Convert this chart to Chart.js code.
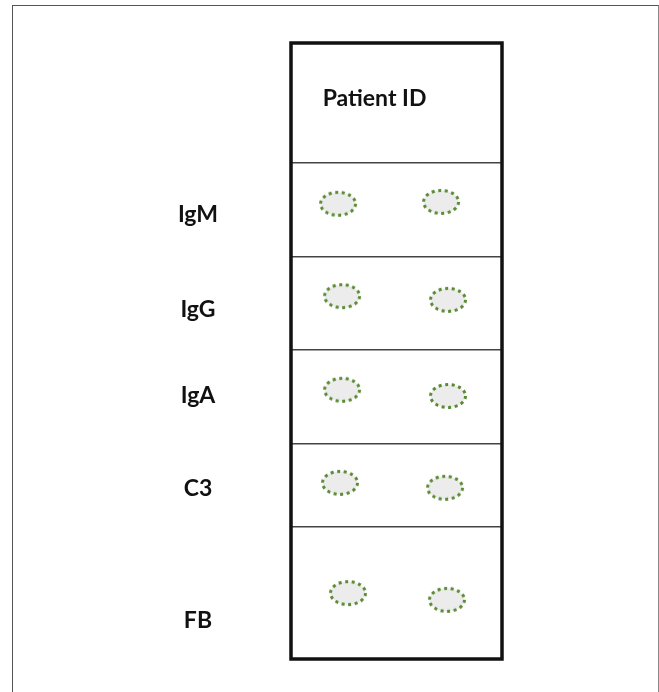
<!DOCTYPE html>
<html>
<head>
<meta charset="utf-8">
<script src="https://cdn.jsdelivr.net/npm/chart.js@4/dist/chart.umd.min.js"></script>
<style>
  html, body { margin: 0; padding: 0; background: #fff; }
  #wrap { position: relative; width: 659px; height: 692px; }
  #frame {
    position: absolute; left: 12px; top: 5px; width: 645px; height: 700px;
    border-left: 1px solid #555; border-top: 1px solid #555; border-right: 1px solid #888;
  }
  #chart { position: absolute; left: 0; top: 0; }
</style>
</head>
<body>
<div id="wrap">
  <div id="frame"></div>
  <canvas id="chart" width="659" height="692"></canvas>
</div>
<script>
// rows of the blot (top to bottom), y in % of box height, x in % of box width
const rowLabels = ['IgM', 'IgG', 'IgA', 'C3', 'FB'];
const labelY = [27.9, 43.2, 57.3, 72.4, 93.7];
const dividerY = [19.5, 34.7, 49.8, 65.1, 78.6];
const spotLeftX = [22.3, 24.2, 24.2, 23.2, 27.0];
const spotLeftY = [26.1, 41.1, 56.3, 71.4, 89.3];
const spotRightX = [71.1, 74.4, 74.4, 73.0, 73.9];
const spotRightY = [25.8, 41.7, 57.3, 72.2, 90.4];
const headerText = 'Patient ID';
const headerX = 15.0;
const headerY = 9.1;

const FONT = 'Lato, "Open Sans", sans-serif';

// dotted ellipse used as point style
const makeSpot = () => {
    const c = document.createElement('canvas');
    c.width = 44; c.height = 30;
    const g = c.getContext('2d');
    const a = 17.5, b = 11.5;
    const h = Math.pow((a - b) / (a + b), 2);
    const per = Math.PI * (a + b) * (1 + 3 * h / (10 + Math.sqrt(4 - 3 * h)));
    const step = per / 14;
    g.beginPath();
    g.ellipse(22, 15, a, b, 0, 0, Math.PI * 2);
    g.fillStyle = '#ececec';
    g.fill();
    g.setLineDash([3, step - 3]);
    g.lineWidth = 3;
    g.strokeStyle = '#5b8a34';
    g.stroke();
    return c;
};
const spotImg = makeSpot();

const toPoints = (xs, ys) => xs.map((x, i) => ({ x, y: ys[i] }));

const boxPlugin = {
    id: 'box',
    afterDraw(chart) {
        const { ctx, chartArea: a, scales } = chart;
        ctx.save();
        ctx.strokeStyle = '#111';
        ctx.lineWidth = 3.5;
        ctx.strokeRect(a.left, a.top, a.right - a.left, a.bottom - a.top);
        ctx.fillStyle = '#111';
        ctx.font = 'bold 23px ' + FONT;
        ctx.textAlign = 'left';
        ctx.textBaseline = 'middle';
        ctx.fillText(headerText, scales.x.getPixelForValue(headerX), scales.y.getPixelForValue(headerY));
        ctx.restore();
    }
};

new Chart(document.getElementById('chart'), {
    type: 'scatter',
    data: {
        datasets: [
            { data: toPoints(spotLeftX, spotLeftY), pointStyle: spotImg },
            { data: toPoints(spotRightX, spotRightY), pointStyle: spotImg }
        ]
    },
    options: {
        responsive: false,
        animation: false,
        layout: { padding: { left: 0, top: 43, right: 157, bottom: 33 } },
        plugins: { legend: { display: false }, tooltip: { enabled: false } },
        scales: {
            x: { type: 'linear', min: 0, max: 100, display: false },
            y: {
                type: 'linear', min: 0, max: 100, reverse: true,
                border: { display: false },
                afterBuildTicks: (scale) => {
                    scale.ticks = [...dividerY, ...labelY].sort((a, b) => a - b).map(v => ({ value: v }));
                },
                afterFit: (scale) => {
                    scale.width = 291;
                    scale.paddingTop = 0;
                    scale.paddingBottom = 0;
                },
                grid: {
                    drawTicks: false,
                    lineWidth: 1.5,
                    color: (c) => (c.tick && dividerY.includes(c.tick.value)) ? '#444' : 'rgba(0,0,0,0)'
                },
                ticks: {
                    crossAlign: 'center',
                    padding: 73,
                    color: '#111',
                    font: { family: FONT, size: 23, weight: 'bold' },
                    callback: (v) => {
                        const i = labelY.indexOf(v);
                        return i >= 0 ? rowLabels[i] : '';
                    }
                }
            }
        }
    },
    plugins: [boxPlugin]
});
</script>
</body>
</html>
